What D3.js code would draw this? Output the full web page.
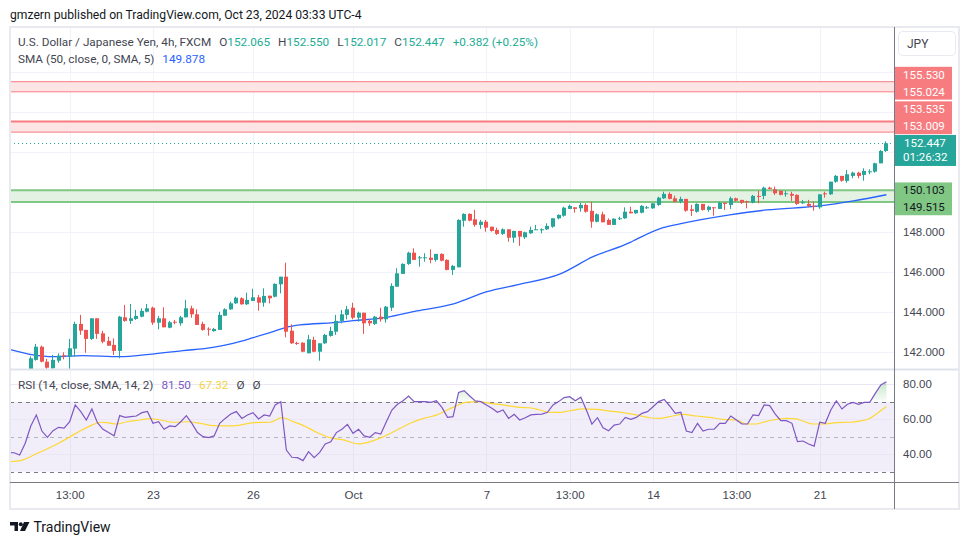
<!DOCTYPE html>
<html>
<head>
<meta charset="utf-8">
<script src="https://cdn.jsdelivr.net/npm/d3@7"></script>
<style>
  body { margin: 0; background: #fff; }
  svg { display: block; font-family: Roboto, "Noto Sans", sans-serif; }
</style>
</head>
<body>
<svg id="chart" width="970" height="545"></svg>
<script>
// USD/JPY 4h candles, [open, high, low, close], bar 0 = first visible candle
const candles = [
  [140.9, 141.8, 140.8, 141.7], [141.62, 142.42, 141.58, 142.28], [142.28, 142.33, 141.5, 141.53],
  [141.53, 141.67, 141.1, 141.23], [141.2, 141.87, 141.1, 141.62], [141.58, 141.95, 141.48, 141.83],
  [141.85, 142.0, 141.65, 141.82], [141.78, 142.67, 141.15, 142.2], [142.18, 143.53, 141.78, 143.42],
  [143.42, 143.87, 142.87, 143.08], [143.12, 143.12, 141.98, 142.67], [142.67, 143.7, 142.62, 143.7],
  [143.7, 143.7, 142.67, 142.92], [142.95, 143.08, 142.45, 142.53], [142.57, 142.78, 142.33, 142.33],
  [142.37, 142.7, 141.87, 142.07], [142.07, 143.82, 141.7, 143.78], [143.75, 144.37, 143.53, 143.57],
  [143.57, 144.42, 143.42, 143.7], [143.67, 144.12, 143.62, 143.82], [143.78, 144.2, 143.75, 144.07],
  [144.03, 144.42, 144.0, 144.2], [144.23, 144.28, 143.37, 143.48], [143.48, 143.82, 143.15, 143.7],
  [143.7, 144.25, 143.25, 143.25], [143.23, 143.57, 143.2, 143.5], [143.53, 143.62, 143.4, 143.5],
  [143.45, 143.82, 143.33, 143.75], [143.75, 144.62, 143.75, 144.2], [144.2, 144.33, 143.73, 143.9],
  [143.9, 144.15, 143.37, 143.37], [143.42, 143.53, 143.08, 143.12], [143.18, 143.25, 142.83, 143.15],
  [143.06, 143.22, 143.03, 143.17], [143.12, 144.03, 143.12, 143.87], [143.83, 144.2, 143.83, 144.15],
  [144.15, 144.53, 144.12, 144.45], [144.45, 144.78, 144.42, 144.73], [144.7, 144.75, 144.38, 144.4],
  [144.4, 144.98, 144.37, 144.62], [144.57, 145.18, 144.57, 144.75], [144.75, 144.87, 144.08, 144.48],
  [144.48, 145.2, 144.28, 144.82], [144.83, 144.83, 144.45, 144.7], [144.78, 145.45, 144.75, 145.42],
  [145.4, 145.78, 144.95, 145.78], [145.78, 146.48, 142.75, 143.03], [143.08, 143.4, 142.42, 142.45],
  [142.47, 142.53, 142.37, 142.45], [142.48, 142.5, 142.0, 142.03], [141.95, 142.87, 141.95, 142.65],
  [142.62, 142.78, 142.0, 142.03], [142.03, 142.45, 141.58, 142.45], [142.45, 142.92, 142.42, 142.87],
  [142.82, 143.28, 142.78, 143.07], [143.03, 143.87, 142.87, 143.57], [143.57, 144.12, 143.45, 143.9],
  [143.87, 144.32, 143.65, 144.15], [144.23, 144.48, 143.65, 143.73], [143.73, 144.03, 143.53, 143.98],
  [143.98, 143.98, 142.92, 143.45], [143.57, 143.65, 143.32, 143.45], [143.42, 143.82, 143.37, 143.78],
  [143.78, 144.23, 143.53, 143.65], [143.65, 144.32, 143.48, 144.28], [144.23, 145.45, 144.07, 145.32],
  [145.28, 146.2, 145.28, 145.95], [145.92, 146.45, 145.92, 146.42], [146.42, 147.03, 146.37, 146.98],
  [146.98, 147.2, 146.62, 146.62], [146.7, 146.82, 146.28, 146.75], [146.7, 146.95, 146.53, 146.75],
  [146.73, 147.15, 146.45, 146.62], [146.62, 146.92, 146.53, 146.92], [146.92, 146.95, 146.55, 146.58],
  [146.62, 146.65, 146.1, 146.12], [146.12, 146.37, 145.87, 146.32], [146.25, 148.65, 146.25, 148.62],
  [148.58, 148.95, 148.28, 148.92], [148.92, 148.95, 148.55, 148.58], [148.65, 149.12, 148.28, 148.37],
  [148.37, 148.62, 148.17, 148.53], [148.53, 148.62, 148.03, 148.23], [148.28, 148.28, 148.03, 148.07],
  [148.12, 148.23, 147.87, 147.92], [147.92, 148.2, 147.87, 148.15], [148.15, 148.15, 147.53, 147.73],
  [147.73, 148.07, 147.48, 148.07], [148.07, 148.07, 147.32, 147.78], [147.75, 148.03, 147.67, 148.0],
  [147.95, 148.28, 147.92, 148.12], [148.13, 148.37, 148.12, 148.15], [148.13, 148.2, 147.95, 148.15],
  [148.15, 148.45, 148.12, 148.32], [148.28, 148.7, 148.23, 148.7], [148.7, 148.9, 148.65, 148.87],
  [148.83, 149.28, 148.78, 149.23], [149.17, 149.38, 149.17, 149.32], [149.25, 149.25, 148.98, 149.17],
  [149.2, 149.48, 149.03, 149.37], [149.37, 149.45, 148.98, 149.03], [149.07, 149.52, 148.23, 148.53],
  [148.53, 148.95, 148.5, 148.9], [148.9, 149.03, 148.5, 148.5], [148.62, 148.7, 148.37, 148.37],
  [148.37, 148.7, 148.37, 148.68], [148.65, 148.78, 148.62, 148.7], [148.7, 149.25, 148.67, 149.03],
  [149.03, 149.28, 148.95, 148.95], [148.95, 149.12, 148.92, 149.12], [148.98, 149.37, 148.95, 149.32],
  [149.2, 149.32, 149.17, 149.25], [149.2, 149.45, 149.17, 149.45], [149.37, 149.78, 149.32, 149.73],
  [149.7, 150.03, 149.67, 149.92], [149.92, 150.0, 149.65, 149.67], [149.7, 149.83, 149.5, 149.53],
  [149.53, 149.78, 149.45, 149.67], [149.67, 149.67, 149.03, 149.08], [149.15, 149.37, 148.82, 149.07],
  [149.03, 149.45, 148.98, 149.42], [149.42, 149.42, 149.08, 149.12], [149.12, 149.33, 149.03, 149.28],
  [149.25, 149.25, 148.83, 149.2], [149.17, 149.53, 149.17, 149.48], [149.48, 149.48, 149.12, 149.42],
  [149.37, 149.78, 149.17, 149.7], [149.7, 149.73, 149.53, 149.58], [149.62, 149.62, 149.42, 149.48],
  [149.55, 149.58, 149.2, 149.5], [149.48, 149.87, 149.45, 149.82], [149.82, 150.07, 149.45, 149.78],
  [149.82, 150.28, 149.65, 150.23], [150.23, 150.28, 150.15, 150.17], [150.15, 150.28, 149.87, 149.95],
  [150.07, 150.1, 149.85, 149.87], [149.9, 150.07, 149.78, 149.95], [149.92, 150.03, 149.57, 149.83],
  [149.87, 149.9, 149.37, 149.42], [149.45, 149.62, 149.42, 149.5], [149.42, 149.62, 149.25, 149.32],
  [149.33, 149.53, 149.08, 149.3], [149.25, 149.9, 149.17, 149.9], [149.95, 150.03, 149.73, 149.9],
  [149.9, 150.53, 149.87, 150.53], [150.53, 150.87, 150.48, 150.82], [150.82, 150.82, 150.53, 150.58],
  [150.57, 151.12, 150.48, 150.9], [150.82, 151.03, 150.7, 150.98], [150.98, 151.03, 150.7, 150.82],
  [150.87, 151.2, 150.58, 151.07], [151.03, 151.15, 150.9, 151.05], [151.03, 151.48, 150.98, 151.45],
  [151.45, 152.12, 151.45, 152.065], [152.065, 152.55, 152.017, 152.447]
];

// SMA(50): [bar, value]
const smaPoints = [
  [-3.7, 142.13], [0.4, 141.87], [4, 141.78], [9.4, 141.83], [16, 141.78], [21.4, 141.9],
  [27.4, 142.08], [32.8, 142.25], [36.4, 142.45], [40, 142.73], [43.6, 143.03], [46, 143.25],
  [48.5, 143.37], [54.5, 143.48], [58.1, 143.58], [64.1, 143.75], [69.5, 144.07], [76.1, 144.42],
  [82.1, 145.03], [87.5, 145.37], [95.3, 145.92], [101.2, 146.78], [107.9, 147.5], [109, 147.65],
  [113.8, 148.23], [116.8, 148.42], [125.8, 148.87], [132.5, 149.12], [142.1, 149.32],
  [148.1, 149.57], [154, 149.878]
];

// RSI(14), one value per bar starting at rsiFirstBar
const rsiFirstBar = -4;
const rsiValues = [
  41.0, 40.9, 39.6, 46.3, 56.2, 62.5, 53.3, 49.7, 53.5, 55.4, 55.0, 58.6, 68.2, 64.4, 59.6, 65.9,
  58.1, 54.3, 52.4, 50.6, 62.1, 61.1, 61.5, 61.9, 63.8, 64.5,
  57.7, 58.6, 54.3, 56.2, 55.8, 58.6, 62.1, 57.7, 52.4, 50.1, 49.5, 50.5, 57.7, 60.5, 63.0, 64.4,
  60.5, 62.5, 63.8, 60.2, 62.5, 61.9, 68.2, 70.1, 42.4, 38.3, 38.1, 36.4, 41.5, 38.1, 41.1, 45.9,
  47.2, 52.4, 54.3, 57.1, 52.0, 54.3, 50.5, 49.7, 52.4, 51.6, 58.6, 65.3, 68.6, 70.6, 73.3, 70.1,
  70.1, 70.1, 69.7, 70.6, 66.8, 61.1, 61.5, 75.4, 76.4, 73.3, 70.5, 70.1,
  68.2, 66.3, 64.0, 65.3, 60.5, 62.8, 59.6, 60.9, 62.5, 62.8, 63.0, 64.0, 68.2, 70.1, 72.4, 72.9,
  70.6, 72.6, 65.3, 57.3, 60.9, 55.2, 53.5, 56.7, 57.3, 61.1, 60.0, 61.1, 63.4, 64.4, 67.2, 70.1,
  71.4, 67.6, 63.4, 64.0, 53.3, 52.4, 57.7, 53.3, 54.3, 54.3, 57.7, 57.7, 61.9, 59.6, 57.3, 57.3,
  62.5, 62.1, 68.2, 67.8, 63.0, 59.2, 59.2, 57.7, 47.2, 47.6, 45.9, 44.7, 58.3, 57.7, 65.3, 70.6,
  65.9, 68.6, 69.7, 68.6, 69.7, 69.7, 74.8, 79.6, 81.5
];

// RSI-based SMA(14): [bar, value]
const rsiMaPoints = [
  [-3.7, 35.8], [-1.9, 36.4], [-0.7, 37.7], [1.1, 40.5], [2.9, 43.0], [5, 46.3], [7.1, 50.1],
  [9.2, 53.9], [11, 56.7], [12.5, 58.3], [13.7, 58.1], [15.5, 57.3], [17.3, 58.6], [19.7, 59.6],
  [21.5, 60.4], [23.3, 59.6], [25.7, 58.3], [28.1, 58.6], [30.5, 57.7], [32.9, 56.4], [35.3, 56.2],
  [37.7, 56.7], [40.1, 58.1], [43.1, 58.3], [45.2, 60.9], [47.3, 58.6], [49.1, 56.4], [51.5, 52.5],
  [53.9, 49.5], [56.3, 48.2], [59, 45.9], [61.1, 47.2], [63.5, 50.1], [65.9, 53.9], [68.3, 57.7],
  [70.7, 60.5], [73.1, 62.5], [75.2, 65.7], [76.6, 67.6], [78.2, 69.7], [80.9, 70.1], [82, 69.5],
  [85, 68.2], [88, 66.8], [89.8, 66.6], [91.6, 65.3], [93.4, 64.0], [95.2, 64.0], [97, 64.9],
  [99.4, 65.9], [101.8, 65.7], [104.2, 64.7], [106.6, 63.8], [109, 62.5], [111.4, 60.9],
  [113.2, 60.5], [115, 61.5], [117.4, 62.8], [119.8, 61.9], [122.2, 61.1], [124.6, 60.0],
  [127, 59.6], [128.8, 57.3], [130.6, 57.3], [131.8, 58.3], [133.6, 59.6], [136, 60.5],
  [137.8, 60.2], [139, 59.0], [140.8, 57.3], [142.6, 57.3], [145, 58.1], [147.4, 58.3],
  [149.2, 59.0], [151, 60.5], [152.5, 63.8], [154, 67.32]
];

const timeTickBars = [7, 22, 40, 58, 82, 97, 112, 127, 142];
const timeTickLabels = ["13:00", "23", "26", "Oct", "7", "13:00", "14", "13:00", "21"];
const priceTicks = [142, 144, 146, 148, 150, 152, 154, 156];
const rsiTicks = [40, 60, 80];
const rsiLevels = [70, 50, 30];

const resistanceZones = [[155.530, 155.024], [153.535, 153.009]];
const supportZones = [[150.103, 149.515]];
const countdown = "01:26:32";

// layout
const left = 10, right = 894, frameRight = 959;
const priceTop = 28, priceBottom = 369, rsiTop = 370, rsiBottom = 482, frameBottom = 509;
const green = "#26a69a", red = "#ef5350", textColor = "#131722", labelText = "#434651";

const svg = d3.select("#chart");
const x = d3.scaleLinear().domain([-3.74, 155.37]).range([left, right]);
const y = d3.scaleLinear().domain([141.165, 158.215]).range([priceBottom, priceTop]);
const yR = d3.scaleLinear().domain([24.17, 88.17]).range([rsiBottom, rsiTop]);

const defs = svg.append("defs");
defs.append("clipPath").attr("id", "price-clip").append("rect")
  .attr("x", left).attr("y", priceTop).attr("width", right - left).attr("height", priceBottom - priceTop);
defs.append("clipPath").attr("id", "rsi-clip").append("rect")
  .attr("x", left).attr("y", rsiTop).attr("width", right - left).attr("height", rsiBottom - rsiTop);
defs.append("clipPath").attr("id", "ob-clip").append("rect")
  .attr("x", left).attr("y", rsiTop).attr("width", right - left).attr("height", yR(70) - rsiTop);
const grad = defs.append("linearGradient").attr("id", "ob-grad")
  .attr("gradientUnits", "userSpaceOnUse").attr("x1", 0).attr("x2", 0)
  .attr("y1", yR(85)).attr("y2", yR(70));
grad.append("stop").attr("offset", 0).attr("stop-color", "#4caf50").attr("stop-opacity", 0.4);
grad.append("stop").attr("offset", 1).attr("stop-color", "#4caf50").attr("stop-opacity", 0.03);

// ---- grid ----
const grid = svg.append("g");
grid.selectAll(".vgrid").data(timeTickBars).join("line")
  .attr("x1", d => Math.round(x(d)) + 0.5).attr("x2", d => Math.round(x(d)) + 0.5)
  .attr("y1", priceTop).attr("y2", rsiBottom)
  .attr("stroke", "#f0f3fa");
grid.selectAll(".hgrid").data(priceTicks).join("line")
  .attr("x1", left).attr("x2", right)
  .attr("y1", d => Math.round(y(d)) + 0.5).attr("y2", d => Math.round(y(d)) + 0.5)
  .attr("stroke", "#f0f3fa");

// ---- price pane ----
const pricePane = svg.append("g").attr("clip-path", "url(#price-clip)");

const zoneLineWidths = { resistance: [[1, 1], [2, 1]], support: [[2, 2]] };
function drawZones(zones, fill, stroke, widths) {
  zones.forEach(([hi, lo], i) => {
    pricePane.append("rect")
      .attr("x", left).attr("width", right - left)
      .attr("y", y(hi)).attr("height", y(lo) - y(hi))
      .attr("fill", fill);
    [hi, lo].forEach((p, j) => {
      pricePane.append("line")
        .attr("x1", left).attr("x2", right)
        .attr("y1", y(p)).attr("y2", y(p))
        .attr("stroke", stroke).attr("stroke-width", widths[i][j]);
    });
  });
}
drawZones(resistanceZones, "#fde4e5", "#f77c80", zoneLineWidths.resistance);
drawZones(supportZones, "#e3f2e3", "#81c784", zoneLineWidths.support);

const last = candles[candles.length - 1];
const prev = candles[candles.length - 2];
const lastClose = last[3];

pricePane.append("line")
  .attr("x1", left).attr("x2", right)
  .attr("y1", Math.round(y(lastClose)) + 0.5).attr("y2", Math.round(y(lastClose)) + 0.5)
  .attr("stroke", green).attr("stroke-dasharray", "1 3");

pricePane.append("path")
  .datum(smaPoints)
  .attr("fill", "none").attr("stroke", "#2962ff").attr("stroke-width", 1.3)
  .attr("d", d3.line().x(d => x(d[0])).y(d => y(d[1])).curve(d3.curveMonotoneX));

const candleG = pricePane.append("g").selectAll("g").data(candles).join("g")
  .attr("fill", d => d[3] >= d[0] ? green : red);
candleG.append("rect")
  .attr("x", (d, i) => Math.round(x(i)) - 1).attr("width", 1)
  .attr("y", d => y(d[1])).attr("height", d => Math.max(1, y(d[2]) - y(d[1])));
candleG.append("rect")
  .attr("x", (d, i) => Math.round(x(i)) - 2).attr("width", 4)
  .attr("y", d => Math.min(y(d[0]), y(d[3])))
  .attr("height", d => Math.max(1, Math.abs(y(d[0]) - y(d[3]))));

// ---- RSI pane ----
const rsiData = rsiValues.map((v, i) => [rsiFirstBar + i, v]);
const rsiPane = svg.append("g").attr("clip-path", "url(#rsi-clip)");
rsiPane.append("rect")
  .attr("x", left).attr("width", right - left)
  .attr("y", yR(70)).attr("height", yR(30) - yR(70))
  .attr("fill", "#7e57c2").attr("fill-opacity", 0.1);
rsiPane.selectAll(".rgrid").data(rsiTicks).join("line")
  .attr("x1", left).attr("x2", right)
  .attr("y1", d => Math.round(yR(d)) + 0.5).attr("y2", d => Math.round(yR(d)) + 0.5)
  .attr("stroke", "#ebe6f5");
rsiPane.selectAll(".rlevel").data(rsiLevels).join("line")
  .attr("x1", left).attr("x2", right)
  .attr("y1", d => Math.round(yR(d)) + 0.5).attr("y2", d => Math.round(yR(d)) + 0.5)
  .attr("stroke", "#787b86").attr("stroke-opacity", d => d === 50 ? 0.5 : 1)
  .attr("stroke-dasharray", "4 4");
rsiPane.append("path")
  .datum(rsiData)
  .attr("clip-path", "url(#ob-clip)")
  .attr("fill", "url(#ob-grad)")
  .attr("d", d3.area().x(d => x(d[0])).y0(yR(70)).y1(d => yR(d[1])));
rsiPane.append("path")
  .datum(rsiMaPoints)
  .attr("fill", "none").attr("stroke", "#fdd835").attr("stroke-width", 1.2)
  .attr("d", d3.line().x(d => x(d[0])).y(d => yR(d[1])).curve(d3.curveMonotoneX));
rsiPane.append("path")
  .datum(rsiData)
  .attr("fill", "none").attr("stroke", "#7e57c2").attr("stroke-width", 1.2)
  .attr("d", d3.line().x(d => x(d[0])).y(d => yR(d[1])));

// ---- frame & separators ----
svg.append("rect")
  .attr("x", left).attr("y", priceTop - 1).attr("width", frameRight - left).attr("height", frameBottom - priceTop + 1)
  .attr("fill", "none").attr("stroke", "#e8eaf0").attr("stroke-width", 2);
svg.append("line")
  .attr("x1", left).attr("x2", frameRight).attr("y1", 369.5).attr("y2", 369.5)
  .attr("stroke", "#e0e3eb").attr("stroke-width", 2);
svg.append("line")
  .attr("x1", left).attr("x2", frameRight).attr("y1", rsiBottom + 0.5).attr("y2", rsiBottom + 0.5)
  .attr("stroke", "#787b86");
svg.append("line")
  .attr("x1", right + 0.5).attr("x2", right + 0.5).attr("y1", priceTop - 1).attr("y2", frameBottom)
  .attr("stroke", "#787b86");

// ---- price labels on the scale ----
// each label takes a slot; slots of one zone are drawn as one box
const slotH = 17.2, inset = 0.8;
const lastBox = { top: y(lastClose) - 8.4, h: 31 };
const zoneBoxes = [];
let bound = lastBox.top;
resistanceZones.slice().reverse().forEach(zone => {
  const slots = zone.slice().reverse().map(p => {
    const top = Math.min(y(p) - slotH / 2, bound - slotH);
    bound = top;
    return { price: p, top };
  });
  zoneBoxes.push({ slots, fill: "#f77c80", color: "#fff" });
});
bound = lastBox.top + lastBox.h;
supportZones.forEach(zone => {
  const slots = zone.map(p => {
    const top = Math.max(y(p) - slotH / 2, bound);
    bound = top + slotH;
    return { price: p, top };
  });
  zoneBoxes.push({ slots, fill: "#81c784", color: textColor });
});

// ---- axes ----
const axisFont = "11.5px";
const priceAxis = svg.append("g").attr("transform", `translate(${right},0)`)
  .call(d3.axisRight(y).tickValues(priceTicks).tickSize(0).tickPadding(9).tickFormat(d3.format(".3f")));
priceAxis.select(".domain").remove();
priceAxis.selectAll("text").attr("font-size", axisFont).attr("fill", labelText).attr("font-family", null)
  .attr("display", d => {
    const yy = y(d);
    const hidden = zoneBoxes.some(b => b.slots.some(s => yy > s.top - 6 && yy < s.top + slotH + 6)) ||
      (yy > lastBox.top - 6 && yy < lastBox.top + lastBox.h + 6);
    return hidden ? "none" : null;
  });

const rsiAxis = svg.append("g").attr("transform", `translate(${right},0)`)
  .call(d3.axisRight(yR).tickValues(rsiTicks).tickSize(0).tickPadding(9).tickFormat(d3.format(".2f")));
rsiAxis.select(".domain").remove();
rsiAxis.selectAll("text").attr("font-size", axisFont).attr("fill", labelText).attr("font-family", null);

const timeAxis = svg.append("g").attr("transform", `translate(0,${rsiBottom})`)
  .call(d3.axisBottom(x).tickValues(timeTickBars).tickSize(0).tickPadding(9)
    .tickFormat((d, i) => timeTickLabels[i]));
timeAxis.select(".domain").remove();
timeAxis.selectAll("text").attr("font-size", axisFont).attr("fill", labelText).attr("font-family", null);

const labelG = svg.append("g").attr("font-size", axisFont);
zoneBoxes.forEach(b => {
  const top = d3.min(b.slots, s => s.top), bottom = d3.max(b.slots, s => s.top) + slotH;
  labelG.append("rect").attr("x", right + 1).attr("y", top + inset).attr("width", 57)
    .attr("height", bottom - top - 2 * inset).attr("fill", b.fill);
  b.slots.forEach(s => {
    labelG.append("text").attr("x", right + 9).attr("y", s.top + slotH / 2).attr("dy", "0.35em")
      .attr("fill", b.color).text(s.price.toFixed(3));
  });
});
labelG.append("rect").attr("x", right + 1).attr("y", lastBox.top).attr("width", 61).attr("height", lastBox.h)
  .attr("fill", green);
labelG.append("text").attr("x", right + 10).attr("y", lastBox.top + 8.3).attr("dy", "0.35em")
  .attr("fill", "#fff").text(lastClose.toFixed(3));
labelG.append("text").attr("x", right + 9).attr("y", lastBox.top + 22.3).attr("dy", "0.35em")
  .attr("fill", "#fff").text(countdown);

// currency button
svg.append("rect").attr("x", 898.5).attr("y", 31.5).attr("width", 57).attr("height", 24).attr("rx", 4)
  .attr("fill", "#fff").attr("stroke", "#e8eaf0");
svg.append("text").attr("x", 907).attr("y", 44).attr("dy", "0.35em").attr("font-size", "12px")
  .attr("fill", labelText).text("JPY");

// ---- legends ----
const fontLegend = "11.75px";
svg.append("text").attr("x", 10).attr("y", 18.5).attr("font-size", "12.15px").attr("fill", textColor)
  .text("gmzern published on TradingView.com, Oct 23, 2024 03:33 UTC-4");

const fmt3 = d3.format(".3f");
const change = last[3] - prev[3];
const leg1 = svg.append("text").attr("x", 18).attr("y", 46).attr("font-size", fontLegend).attr("fill", labelText);
leg1.append("tspan").text("U.S. Dollar / Japanese Yen, 4h, FXCM");
[["O", last[0]], ["H", last[1]], ["L", last[2]], ["C", last[3]]].forEach(([k, v]) => {
  leg1.append("tspan").attr("dx", 8).text(k);
  leg1.append("tspan").attr("fill", "#22ab94").text(fmt3(v));
});
leg1.append("tspan").attr("dx", 8).attr("fill", "#22ab94")
  .text(`+${fmt3(change)} (+${(change / prev[3] * 100).toFixed(2)}%)`);

const leg2 = svg.append("text").attr("x", 18).attr("y", 63).attr("font-size", fontLegend).attr("fill", labelText);
leg2.append("tspan").text("SMA (50, close, 0, SMA, 5)");
leg2.append("tspan").attr("dx", 8).attr("fill", "#2962ff").text(fmt3(smaPoints[smaPoints.length - 1][1]));

const leg3 = svg.append("text").attr("x", 18).attr("y", 389).attr("font-size", fontLegend).attr("fill", labelText);
leg3.append("tspan").text("RSI (14, close, SMA, 14, 2)");
leg3.append("tspan").attr("dx", 8).attr("fill", "#7e57c2").text(rsiValues[rsiValues.length - 1].toFixed(2));
leg3.append("tspan").attr("dx", 8).attr("fill", "#f5d33f").text(rsiMaPoints[rsiMaPoints.length - 1][1].toFixed(2));
leg3.append("tspan").attr("dx", 8).text("\u00d8");
leg3.append("tspan").attr("dx", 8).text("\u00d8");

// ---- TradingView mark ----
const logo = svg.append("g").attr("fill", textColor);
logo.append("path").attr("d", "M10,522 h8 v9 h-3.5 v-5.5 h-4.5 z");
logo.append("circle").attr("cx", 20.8).attr("cy", 524.2).attr("r", 2);
logo.append("path").attr("d", "M24,522 h5.5 l-4.5,9 h-5 z");
svg.append("text").attr("x", 33.5).attr("y", 531.5).attr("font-size", "14px").attr("fill", textColor)
  .text("TradingView");
</script>
</body>
</html>
